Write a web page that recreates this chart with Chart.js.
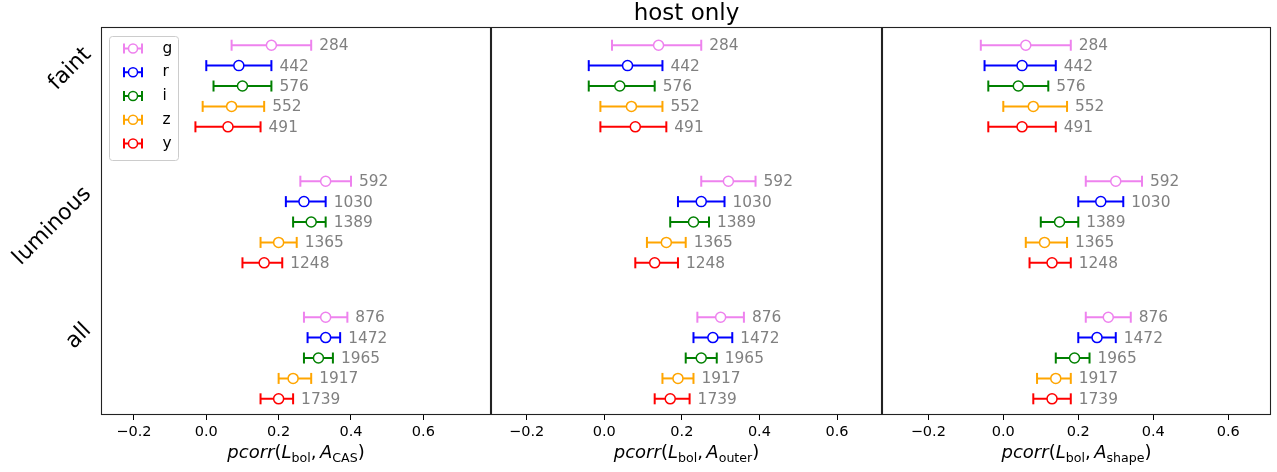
<!DOCTYPE html>
<html><head><meta charset="utf-8">
<script src="https://cdn.jsdelivr.net/npm/chart.js@4.4.1/dist/chart.umd.min.js"></script>
<style>
html,body{margin:0;padding:0;background:#fff;}
#wrap{position:relative;width:1277px;height:472px;overflow:hidden;background:#fff;}
canvas{position:absolute;top:0;}
</style></head><body>
<div id="wrap">
<canvas id="c1" width="492" height="472" style="left:0px"></canvas>
<canvas id="c2" width="392" height="472" style="left:491px"></canvas>
<canvas id="c3" width="395" height="472" style="left:882px"></canvas>
</div>
<script>
// ---------------- data ----------------
const bands = ['g', 'r', 'i', 'z', 'y'];
const groups = ['faint', 'luminous', 'all'];
const titleText = 'host only';
const xTicks = [-0.2, 0.0, 0.2, 0.4, 0.6];

const countsFaint    = [284, 442, 576, 552, 491];
const countsLuminous = [592, 1030, 1389, 1365, 1248];
const countsAll      = [876, 1472, 1965, 1917, 1739];

// panel 1: A_CAS
const casFaintVal = [0.18, 0.09, 0.10, 0.07, 0.06];
const casFaintLo  = [0.07, 0.00, 0.02, -0.01, -0.03];
const casFaintHi  = [0.29, 0.18, 0.18, 0.16, 0.15];
const casLumVal   = [0.33, 0.27, 0.29, 0.20, 0.16];
const casLumLo    = [0.26, 0.22, 0.24, 0.15, 0.10];
const casLumHi    = [0.40, 0.33, 0.33, 0.25, 0.21];
const casAllVal   = [0.33, 0.33, 0.31, 0.24, 0.20];
const casAllLo    = [0.27, 0.28, 0.27, 0.20, 0.15];
const casAllHi    = [0.39, 0.37, 0.35, 0.29, 0.24];

// panel 2: A_outer
const outFaintVal = [0.14, 0.06, 0.04, 0.07, 0.08];
const outFaintLo  = [0.02, -0.04, -0.04, -0.01, -0.01];
const outFaintHi  = [0.25, 0.15, 0.13, 0.15, 0.16];
const outLumVal   = [0.32, 0.25, 0.23, 0.16, 0.13];
const outLumLo    = [0.25, 0.19, 0.17, 0.11, 0.08];
const outLumHi    = [0.39, 0.31, 0.27, 0.21, 0.19];
const outAllVal   = [0.30, 0.28, 0.25, 0.19, 0.17];
const outAllLo    = [0.24, 0.23, 0.21, 0.15, 0.13];
const outAllHi    = [0.36, 0.33, 0.29, 0.23, 0.22];

// panel 3: A_shape
const shpFaintVal = [0.06, 0.05, 0.04, 0.08, 0.05];
const shpFaintLo  = [-0.06, -0.05, -0.04, 0.00, -0.04];
const shpFaintHi  = [0.18, 0.14, 0.12, 0.17, 0.14];
const shpLumVal   = [0.30, 0.26, 0.15, 0.11, 0.13];
const shpLumLo    = [0.22, 0.20, 0.10, 0.06, 0.07];
const shpLumHi    = [0.37, 0.32, 0.20, 0.17, 0.18];
const shpAllVal   = [0.28, 0.25, 0.19, 0.14, 0.13];
const shpAllLo    = [0.22, 0.20, 0.14, 0.09, 0.08];
const shpAllHi    = [0.34, 0.30, 0.23, 0.18, 0.18];

// ---------------- layout / style ----------------
const bandColors = ['#ee82ee', '#0000ff', '#008000', '#ffa500', '#ff0000'];
const groupCenters = [2, 1, 0];
const bandOffsets = [0.3, 0.15, 0, -0.15, -0.3];
const groupLabelPos = [2.125, 0.97, 0.16];
const yMin = -0.419, yMax = 2.434;
const FONT = '"DejaVu Sans", "Liberation Sans", sans-serif';
const groupCounts = [countsFaint, countsLuminous, countsAll];

const panels = [
  { id: 'c1', sub: 'CAS', xMin: -0.291, xMax: 0.787, padL: 101, padR: 1,
    val: [casFaintVal, casLumVal, casAllVal], lo: [casFaintLo, casLumLo, casAllLo], hi: [casFaintHi, casLumHi, casAllHi],
    legend: true, yLabels: true, title: false },
  { id: 'c2', sub: 'outer', xMin: -0.292, xMax: 0.716, padL: 0, padR: 1,
    val: [outFaintVal, outLumVal, outAllVal], lo: [outFaintLo, outLumLo, outAllLo], hi: [outFaintHi, outLumHi, outAllHi],
    legend: false, yLabels: false, title: true },
  { id: 'c3', sub: 'shape', xMin: -0.3235, xMax: 0.714, padL: 0, padR: 6,
    val: [shpFaintVal, shpLumVal, shpAllVal], lo: [shpFaintLo, shpLumLo, shpAllLo], hi: [shpFaintHi, shpLumHi, shpAllHi],
    legend: false, yLabels: false, title: false }
];

function drawErrMarker(ctx, cx, cy, color, half, capH, r) {
  ctx.save();
  ctx.strokeStyle = color; ctx.lineWidth = 2;
  ctx.beginPath();
  ctx.moveTo(cx - half, cy); ctx.lineTo(cx + half, cy);
  ctx.moveTo(cx - half, cy - capH); ctx.lineTo(cx - half, cy + capH);
  ctx.moveTo(cx + half, cy - capH); ctx.lineTo(cx + half, cy + capH);
  ctx.stroke();
  ctx.beginPath(); ctx.arc(cx, cy, r, 0, Math.PI * 2);
  ctx.fillStyle = '#fff'; ctx.fill();
  ctx.lineWidth = 1.5; ctx.stroke();
  ctx.restore();
}

const decor = {
  id: 'decor',
  afterDatasetsDraw(chart, args, opts) {
    const p = opts.panel;
    const ctx = chart.ctx, xs = chart.scales.x, ys = chart.scales.y, ca = chart.chartArea;
    // count labels
    ctx.save();
    ctx.font = '15.4px ' + FONT;
    ctx.fillStyle = '#808080';
    ctx.textBaseline = 'middle';
    ctx.textAlign = 'left';
    p.hi.forEach((arr, gi) => arr.forEach((h, bi) => {
      const x = xs.getPixelForValue(h) + 8;
      const y = ys.getPixelForValue(groupCenters[gi] + bandOffsets[bi]);
      ctx.fillText(String(groupCounts[gi][bi]), x, y + 1);
    }));
    ctx.restore();

    // legend
    if (p.legend) {
      ctx.save();
      const lx = ca.left + 8.5, ly = ca.top + 9.5, lw = 69, lh = 124;
      ctx.beginPath();
      ctx.roundRect(lx, ly, lw, lh, 3);
      ctx.fillStyle = 'rgba(255,255,255,0.8)';
      ctx.fill();
      ctx.strokeStyle = '#cccccc'; ctx.lineWidth = 1;
      ctx.stroke();
      ctx.font = '15.4px ' + FONT;
      ctx.fillStyle = '#000';
      ctx.textBaseline = 'middle';
      ctx.textAlign = 'left';
      bands.forEach((b, i) => {
        const cy = ca.top + 21.5 + i * 23.75;
        drawErrMarker(ctx, ca.left + 32, cy, bandColors[i], 9, 5, 4.5);
        ctx.fillText(b, ca.left + 61.5, cy);
      });
      ctx.restore();
    }
  },
  afterDraw(chart, args, opts) {
    const p = opts.panel;
    const ctx = chart.ctx, xs = chart.scales.x, ys = chart.scales.y, ca = chart.chartArea;
    // frame
    ctx.save();
    ctx.strokeStyle = '#222';
    ctx.lineWidth = 1.1;
    ctx.strokeRect(ca.left + 0.5, ca.top + 0.5, ca.right - ca.left - 1, ca.bottom - ca.top - 1);
    ctx.restore();

    // x title: pcorr(L_bol, A_sub)
    ctx.save();
    const f = 18, fs = 12.6;
    const parts = [
      { t: 'pcorr', font: 'italic ' + f + 'px ' + FONT, dy: 0 },
      { t: '(', font: f + 'px ' + FONT, dy: 0 },
      { t: 'L', font: 'italic ' + f + 'px ' + FONT, dy: 0 },
      { t: 'bol', font: fs + 'px ' + FONT, dy: 3.5 },
      { t: ',', font: f + 'px ' + FONT, dy: 0, extra: 3.5 },
      { t: 'A', font: 'italic ' + f + 'px ' + FONT, dy: 0 },
      { t: p.sub, font: fs + 'px ' + FONT, dy: 3.5 },
      { t: ')', font: f + 'px ' + FONT, dy: 0 }
    ];
    let total = 0;
    parts.forEach(pt => { ctx.font = pt.font; pt.w = ctx.measureText(pt.t).width + (pt.extra || 0); total += pt.w; });
    let x = (ca.left + ca.right) / 2 - total / 2;
    const base = 458;
    ctx.fillStyle = '#000';
    ctx.textBaseline = 'alphabetic';
    ctx.textAlign = 'left';
    parts.forEach(pt => { ctx.font = pt.font; ctx.fillText(pt.t, x, base + pt.dy); x += pt.w; });
    ctx.restore();

    // title
    if (p.title) {
      ctx.save();
      ctx.font = '23px ' + FONT;
      ctx.fillStyle = '#000';
      ctx.textAlign = 'center';
      ctx.textBaseline = 'alphabetic';
      ctx.fillText(titleText, (ca.left + ca.right) / 2, 20);
      ctx.restore();
    }

    // rotated group labels
    if (p.yLabels) {
      ctx.save();
      const fy = 22;
      ctx.font = fy + 'px ' + FONT;
      ctx.fillStyle = '#000';
      ctx.textAlign = 'center';
      ctx.textBaseline = 'middle';
      groups.forEach((g, gi) => {
        const L = ctx.measureText(g).width;
        const half = (L + fy * 0.8) * Math.SQRT1_2 / 2;
        const cx = ca.left - 7 - half;
        const cy = ys.getPixelForValue(groupLabelPos[gi]);
        ctx.save();
        ctx.translate(cx, cy);
        ctx.rotate(-Math.PI / 4);
        ctx.fillText(g, 0, 0);
        ctx.restore();
      });
      ctx.restore();
    }
  }
};

function buildDatasets(p) {
  const ds = [];
  // centre markers (drawn on top)
  bands.forEach((b, bi) => {
    ds.push({
      label: b,
      data: groups.map((g, gi) => ({ x: p.val[gi][bi], y: groupCenters[gi] + bandOffsets[bi] })),
      showLine: false,
      pointStyle: 'circle',
      pointRadius: 5,
      pointBackgroundColor: '#ffffff',
      pointBorderColor: bandColors[bi],
      pointBorderWidth: 1.5,
      order: 0
    });
  });
  // error bars
  groups.forEach((g, gi) => {
    bands.forEach((b, bi) => {
      const y = groupCenters[gi] + bandOffsets[bi];
      ds.push({
        label: g + '-' + b + '-err',
        data: [{ x: p.lo[gi][bi], y: y }, { x: p.hi[gi][bi], y: y }],
        showLine: true,
        borderColor: bandColors[bi],
        borderWidth: 2,
        pointStyle: 'line',
        rotation: 90,
        pointRadius: 5.5,
        pointBorderColor: bandColors[bi],
        pointBorderWidth: 2,
        order: 1
      });
    });
  });
  return ds;
}

panels.forEach(p => {
  new Chart(document.getElementById(p.id), {
    type: 'scatter',
    data: { datasets: buildDatasets(p) },
    options: {
      responsive: false,
      animation: false,
      events: [],
      devicePixelRatio: 1,
      layout: { autoPadding: false, padding: { left: p.padL, right: p.padR, top: 27, bottom: 0 } },
      plugins: {
        legend: { display: false },
        tooltip: { enabled: false },
        decor: { panel: p }
      },
      scales: {
        x: {
          type: 'linear',
          min: p.xMin, max: p.xMax,
          afterFit: (s) => { s.height = 57; s.paddingLeft = 0; s.paddingRight = 0; s.paddingTop = 0; s.paddingBottom = 0; },
          afterBuildTicks: (s) => { s.ticks = xTicks.map(v => ({ value: v })); },
          border: { display: false },
          grid: { drawOnChartArea: false, drawTicks: true, tickLength: 5, color: '#000', lineWidth: 1 },
          ticks: {
            includeBounds: false,
            padding: 4,
            color: '#000',
            font: { family: 'DejaVu Sans', size: 14.5 },
            callback: (v) => (v < 0 ? '\u2212' : '') + Math.abs(v).toFixed(1)
          }
        },
        y: {
          type: 'linear',
          min: yMin, max: yMax,
          display: false,
          afterFit: (s) => { s.paddingLeft = 0; s.paddingRight = 0; s.paddingTop = 0; s.paddingBottom = 0; }
        }
      }
    },
    plugins: [decor]
  });
});
</script>
</body></html>
